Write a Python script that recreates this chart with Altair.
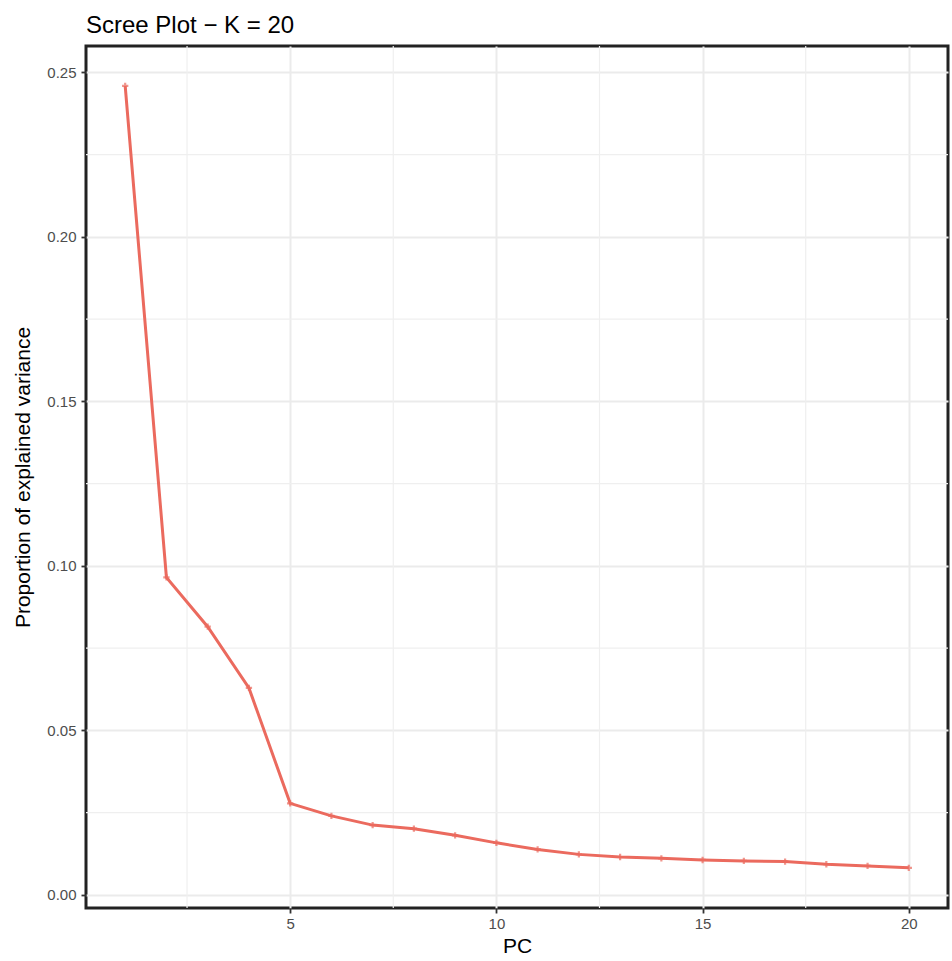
import altair as alt
import pandas as pd

pcs = list(range(1, 21))
variance = [0.2459, 0.0965, 0.0815, 0.0629, 0.0278, 0.0240, 0.0212, 0.0201,
            0.0181, 0.0158, 0.0138, 0.0123, 0.0115, 0.0111, 0.0106, 0.0103,
            0.0101, 0.0093, 0.0088, 0.0082]
x_major = [5, 10, 15, 20]
x_minor = [2.5, 7.5, 12.5, 17.5]
y_major = [0.0, 0.05, 0.10, 0.15, 0.20, 0.25]
y_minor = [0.025, 0.075, 0.125, 0.175, 0.225]

df = pd.DataFrame({"PC": pcs, "var": variance})
W, H = 862, 862
FONT = "Liberation Sans"
RED = "#EB6A5E"

xs = alt.Scale(domain=[0.05, 20.95], nice=False, zero=False)
ys = alt.Scale(domain=[-0.004, 0.258], nice=False, zero=False)

common = dict(grid=True, gridColor="#EBEBEB", gridWidth=2, domain=False,
              tickColor="#333333", tickSize=5, tickWidth=1.8,
              labelFont=FONT, labelFontSize=15, labelColor="#4D4D4D",
              titleFont=FONT, titleFontWeight="normal", titleColor="#000000")
xaxis = alt.Axis(values=x_major, format="d", titleFontSize=21, titlePadding=4, labelPadding=3, **common)
yaxis = alt.Axis(values=y_major, format=".2f", titleFontSize=21, titlePadding=13, labelPadding=5, **common)
XT, YT = "PC", "Proportion of explained variance"

vminor = alt.Chart(pd.DataFrame({"v": x_minor})).mark_rule(color="#EFEFEF", strokeWidth=1.2).encode(
    x=alt.X("v:Q", scale=xs, title=XT, axis=xaxis))
hminor = alt.Chart(pd.DataFrame({"v": y_minor})).mark_rule(color="#EFEFEF", strokeWidth=1.2).encode(
    y=alt.Y("v:Q", scale=ys, title=YT, axis=yaxis))

base = alt.Chart(df).encode(
    x=alt.X("PC:Q", scale=xs, title=XT, axis=xaxis),
    y=alt.Y("var:Q", scale=ys, title=YT, axis=yaxis),
)
line = base.mark_line(color=RED, strokeWidth=3)
pts = base.mark_point(shape="M-1,0L1,0M0,-1L0,1", size=40, color=RED, strokeWidth=2.2, filled=False)

chart = alt.layer(vminor, hminor, line, pts).properties(
    width=W, height=H,
    title=alt.TitleParams("Scree Plot − K = 20", anchor="start", frame="group", font=FONT,
                          fontSize=24, fontWeight="normal", color="#000000", offset=7),
    autosize=alt.AutoSizeParams(type="none"),
    padding={"left": 86, "top": 46, "right": 4, "bottom": 53},
).configure(background="white").configure_view(stroke="#222222", strokeWidth=3)

chart.save("out.html", embed_options={"renderer": "svg", "actions": False})
